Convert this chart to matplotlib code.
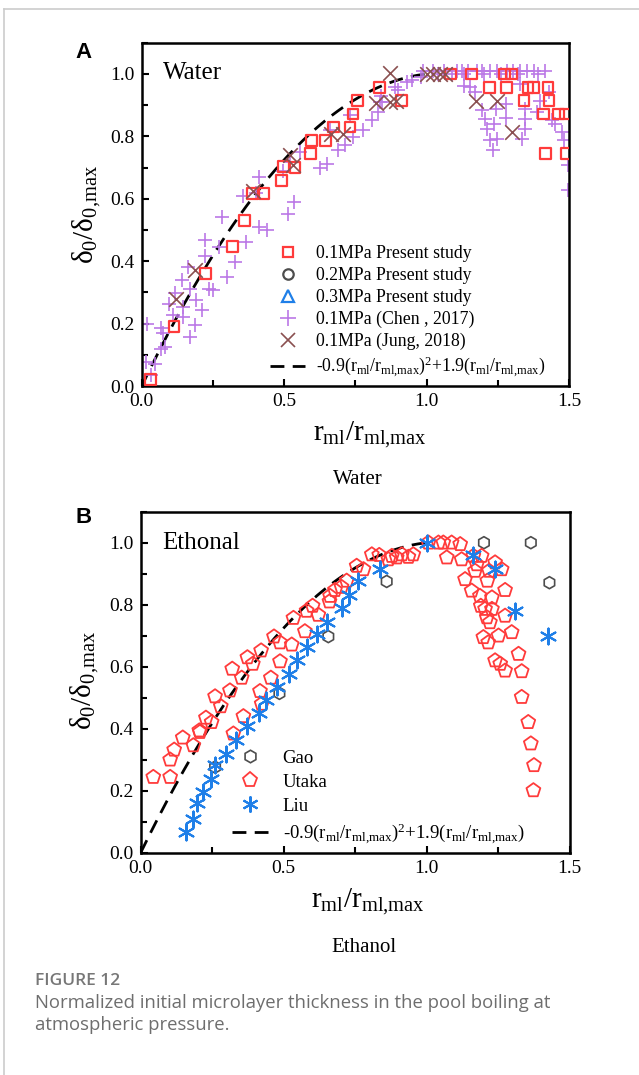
import numpy as np
import matplotlib
matplotlib.use("Agg")
import matplotlib.pyplot as plt
from matplotlib.lines import Line2D
from matplotlib.ticker import MultipleLocator, FormatStrFormatter

plt.rcParams['font.family'] = ['Liberation Serif', 'DejaVu Serif']
plt.rcParams['mathtext.fontset'] = 'custom'
plt.rcParams['mathtext.rm'] = 'Liberation Serif'
plt.rcParams['mathtext.it'] = 'Liberation Serif:italic'
plt.rcParams['mathtext.bf'] = 'Liberation Serif:bold'

# ---------------- Panel A data (Water) ----------------
present_x = [0.032, 0.113, 0.224, 0.318, 0.36, 0.389, 0.429, 0.491, 0.499, 0.538, 0.593, 0.596,
             0.645, 0.672, 0.731, 0.742, 0.758, 0.836, 0.912, 1.084, 1.157, 1.222, 1.274, 1.28,
             1.298, 1.342, 1.356, 1.374, 1.411, 1.418, 1.426, 1.43, 1.464, 1.488, 1.491]
present_y = [0.021, 0.19, 0.36, 0.446, 0.53, 0.618, 0.616, 0.659, 0.703, 0.70, 0.744, 0.787,
             0.787, 0.83, 0.83, 0.872, 0.915, 0.957, 0.915, 1.0, 1.0, 0.957, 1.0, 0.957,
             1.0, 0.915, 0.957, 0.957, 0.872, 0.744, 0.957, 0.915, 0.872, 0.872, 0.744]

chen_x = [0.018, 0.015, 0.047, 0.032, 0.067, 0.075, 0.067, 0.08, 0.111, 0.097, 0.117, 0.14,
          0.146, 0.146, 0.17, 0.17, 0.191, 0.187, 0.211, 0.164, 0.222, 0.222, 0.251, 0.236,
          0.273, 0.283, 0.30, 0.328, 0.366, 0.41, 0.439, 0.515, 0.533,
          0.354, 0.413, 0.40, 0.497, 0.52, 0.555, 0.626, 0.652, 0.69, 0.713, 0.74, 0.775,
          0.807, 0.83, 0.842, 0.73, 0.66, 0.84, 0.889, 0.90, 0.931, 0.948, 0.982, 0.989, 0.837,
          1.024, 1.06, 1.106, 1.124, 1.147, 1.177, 1.194, 1.223, 1.246, 1.282, 1.305, 1.329,
          1.352, 1.376, 1.417,
          1.04, 1.09, 1.13, 1.20, 1.26, 1.32, 1.39,
          1.131, 1.153, 1.171, 1.194, 1.206, 1.212, 1.223, 1.233, 1.235, 1.247, 1.245, 1.28,
          1.28, 1.329, 1.346, 1.346, 1.346, 1.335, 1.387, 1.399, 1.428, 1.44, 1.452, 1.475,
          1.481, 1.498, 1.498]
chen_y = [0.20, 0.078, 0.072, 0.035, 0.185, 0.17, 0.12, 0.125, 0.227, 0.264, 0.298, 0.339,
          0.254, 0.222, 0.312, 0.158, 0.275, 0.195, 0.243, 0.381, 0.467, 0.416, 0.307, 0.31,
          0.445, 0.542, 0.348, 0.397, 0.461, 0.51, 0.499, 0.552, 0.589,
          0.608, 0.67, 0.62, 0.69, 0.718, 0.75, 0.70, 0.712, 0.755, 0.771, 0.797, 0.821,
          0.851, 0.877, 0.909, 0.87, 0.82, 0.93, 0.957, 0.95, 0.973, 0.981, 0.989, 1.01, 0.909,
          1.01, 1.01, 1.01, 1.01, 1.01, 1.01, 1.01, 1.01, 1.01, 1.01, 1.01, 1.01,
          1.01, 1.01, 1.01,
          1.0, 1.0, 1.0, 1.0, 1.0, 1.0, 1.0,
          0.963, 0.957, 0.941, 0.883, 0.856, 0.824, 0.787, 0.755, 0.84, 0.792, 0.888, 0.859,
          0.904, 0.968, 0.888, 0.856, 0.824, 0.792, 0.877, 0.915, 0.941, 0.851, 0.84, 0.813,
          0.787, 0.707, 0.627]

jung_x = [0.12, 0.187, 0.389, 0.52, 0.532, 0.666, 0.707, 0.822, 0.873, 0.871, 0.894, 1.0,
          1.023, 1.046, 1.064, 1.173, 1.247, 1.30]
jung_y = [0.28, 0.373, 0.624, 0.739, 0.707, 0.808, 0.808, 0.906, 1.002, 0.909, 0.915, 1.0,
          1.0, 1.0, 1.0, 0.915, 0.915, 0.813]

# ---------------- Panel B data (Ethanol) ----------------
gao_x = [0.26, 0.485, 0.656, 0.86, 1.20, 1.364, 1.429]
gao_y = [0.276, 0.514, 0.697, 0.875, 1.0, 1.0, 0.871]

utaka_x = [0.044, 0.103, 0.103, 0.117, 0.147, 0.184, 0.205, 0.207, 0.228, 0.248, 0.26, 0.28,
           0.312, 0.32, 0.353, 0.373, 0.392, 0.421, 0.324, 0.359, 0.417, 0.423, 0.455, 0.466,
           0.487, 0.487, 0.528, 0.534, 0.574, 0.58, 0.601, 0.621, 0.66, 0.662, 0.679, 0.702,
           0.72, 0.755, 0.779, 0.808, 0.834, 0.866, 0.878, 0.895, 0.913, 0.936, 0.953,
           1.006, 1.041, 1.058, 1.087, 1.117, 1.07, 1.122, 1.163, 1.192, 1.175, 1.169, 1.218,
           1.212, 1.134, 1.157, 1.186, 1.189, 1.204, 1.21, 1.221, 1.228, 1.228, 1.239, 1.262,
           1.274, 1.274, 1.198, 1.215, 1.251, 1.239, 1.257, 1.274, 1.297, 1.321, 1.332, 1.332,
           1.355, 1.364, 1.375, 1.373]
utaka_y = [0.244, 0.30, 0.244, 0.332, 0.371, 0.346, 0.394, 0.389, 0.435, 0.421, 0.504, 0.472,
           0.523, 0.593, 0.564, 0.63, 0.609, 0.652, 0.384, 0.44, 0.521, 0.48, 0.564, 0.697,
           0.617, 0.678, 0.671, 0.757, 0.714, 0.78, 0.796, 0.767, 0.81, 0.828, 0.847, 0.857,
           0.877, 0.925, 0.914, 0.962, 0.96, 0.946, 0.957, 0.952, 0.962, 0.954, 0.962,
           1.0, 1.0, 1.0, 1.0, 0.995, 0.952, 0.946, 0.957, 0.957, 0.93, 0.909, 0.909,
           0.877, 0.882, 0.845, 0.828, 0.796, 0.786, 0.759, 0.743, 0.786, 0.823, 0.936, 0.914,
           0.847, 0.764, 0.695, 0.678, 0.70, 0.62, 0.609, 0.587, 0.711, 0.641, 0.585, 0.502,
           0.421, 0.352, 0.282, 0.201]

liu_x = [0.159, 0.182, 0.196, 0.219, 0.245, 0.26, 0.298, 0.333, 0.373, 0.415, 0.438, 0.476,
         0.52, 0.545, 0.58, 0.618, 0.65, 0.703, 0.73, 0.761, 0.837, 1.0, 1.163, 1.239,
         1.309, 1.425]
liu_y = [0.068, 0.11, 0.159, 0.196, 0.239, 0.282, 0.317, 0.364, 0.41, 0.45, 0.493, 0.534,
         0.577, 0.622, 0.662, 0.707, 0.743, 0.789, 0.832, 0.877, 0.914, 1.0, 0.96, 0.914,
         0.78, 0.70]

fit_a = -0.9
fit_b = 1.9

RED = '#ff3b3b'
PURPLE = '#bb78e6'
BROWN = '#8a5050'
GREY = '#4d4d4d'
BLUE = '#1f7fe8'

fig = plt.figure(figsize=(6.39, 10.75), dpi=100)

SUB1 = r'$_{\mathrm{ml}}$'
SUB2 = r'$_{\mathrm{ml{,}max}}$'
fit_label = ('-0.9(r' + SUB1 + '/r' + SUB2 + ')$^{2}$+1.9(r' + SUB1 + '/r' + SUB2 + ')')
xlabel_txt = 'r' + SUB1 + '/r' + SUB2
ylabel_txt = r'$\mathrm{\delta_{0}/\delta_{0{,}max}}$'

xfit = np.linspace(0, 1.0, 200)
yfit = fit_a * xfit ** 2 + fit_b * xfit


def style_axes(ax):
    ax.set_xlim(0, 1.5)
    ax.set_ylim(0, 1.1)
    ax.xaxis.set_major_locator(MultipleLocator(0.5))
    ax.xaxis.set_minor_locator(MultipleLocator(0.25))
    ax.yaxis.set_major_locator(MultipleLocator(0.2))
    ax.yaxis.set_minor_locator(MultipleLocator(0.1))
    ax.xaxis.set_major_formatter(FormatStrFormatter('%.1f'))
    ax.yaxis.set_major_formatter(FormatStrFormatter('%.1f'))
    ax.tick_params(which='both', direction='in', width=1.5, labelsize=14,
                   top=False, right=False)
    ax.tick_params(which='major', length=5, pad=5)
    ax.tick_params(which='minor', length=4)
    for s in ax.spines.values():
        s.set_linewidth(1.8)


# ---------------- Panel A ----------------
axA = fig.add_axes([0.2218, 0.6409, 0.6687, 0.3193])
style_axes(axA)
axA.plot(xfit, yfit, color='black', lw=2.0, dashes=(5, 3), zorder=1)
axA.scatter(chen_x, chen_y, marker='+', s=110, color=PURPLE, linewidths=1.2, zorder=2)
axA.scatter(present_x, present_y, marker='s', s=60, facecolors='none', edgecolors=RED,
            linewidths=1.6, zorder=3)
axA.scatter(jung_x, jung_y, marker='x', s=110, color=BROWN, linewidths=1.2, zorder=4)

handlesA = [
    Line2D([], [], ls='none', marker='s', ms=7.5, mfc='none', mec=RED, mew=1.6),
    Line2D([], [], ls='none', marker='o', ms=7.5, mfc='none', mec=GREY, mew=1.6),
    Line2D([], [], ls='none', marker='^', ms=8, mfc='none', mec=BLUE, mew=1.6),
    Line2D([], [], ls='none', marker='+', ms=11, color=PURPLE, mew=1.2),
    Line2D([], [], ls='none', marker='x', ms=10, color=BROWN, mew=1.2),
    Line2D([], [], color='black', lw=2.0, dashes=(5, 3)),
]
labelsA = ['0.1MPa Present study', '0.2MPa Present study', '0.3MPa Present study',
           '0.1MPa (Chen , 2017)', '0.1MPa (Jung, 2018)', fit_label]
axA.legend(handlesA, labelsA, loc='lower left', bbox_to_anchor=(0.3, 0.02),
           frameon=False, fontsize=12.8, handlelength=2.0, handletextpad=0.6,
           labelspacing=0.27, borderpad=0, borderaxespad=0)
axA.text(0.05, 0.913, 'Water', transform=axA.transAxes, fontsize=18, va='center', ha='left')
axA.text(0.534, -0.143, xlabel_txt, transform=axA.transAxes,
         fontsize=21, ha='center', va='center')
axA.text(-0.129, 0.5, ylabel_txt, transform=axA.transAxes,
         fontsize=21, ha='center', va='center', rotation=90)

# ---------------- Panel B ----------------
axB = fig.add_axes([0.2202, 0.2068, 0.6714, 0.3172])
style_axes(axB)
axB.plot(xfit, yfit, color='black', lw=2.0, dashes=(5, 3), zorder=1)
axB.scatter(gao_x, gao_y, marker='h', s=75, facecolors='none', edgecolors=GREY,
            linewidths=1.2, zorder=2)
axB.scatter(utaka_x, utaka_y, marker='p', s=110, facecolors='none', edgecolors=RED,
            linewidths=1.3, zorder=3)
axB.scatter(liu_x, liu_y, marker=(6, 2, 0), s=130, color=BLUE, linewidths=1.5, zorder=4)

handlesB = [
    Line2D([], [], ls='none', marker='h', ms=9, mfc='none', mec=GREY, mew=1.2),
    Line2D([], [], ls='none', marker='p', ms=11, mfc='none', mec=RED, mew=1.3),
    Line2D([], [], ls='none', marker=(6, 2, 0), ms=11.5, color=BLUE, mew=1.5),
    Line2D([], [], color='black', lw=2.0, dashes=(5, 3)),
]
labelsB = ['Gao', 'Utaka', 'Liu', fit_label]
axB.legend(handlesB, labelsB, loc='lower left', bbox_to_anchor=(0.212, 0.02),
           frameon=False, fontsize=13.5, handlelength=1.95, handletextpad=0.77,
           labelspacing=0.36, borderpad=0, borderaxespad=0)
axB.text(0.049, 0.908, 'Ethonal', transform=axB.transAxes, fontsize=18, va='center', ha='left')
axB.text(0.529, -0.144, xlabel_txt, transform=axB.transAxes,
         fontsize=21, ha='center', va='center')
axB.text(-0.13, 0.506, ylabel_txt, transform=axB.transAxes,
         fontsize=21, ha='center', va='center', rotation=90)

# ---------------- Figure-level texts ----------------
fig.text(84 / 639, 1 - 52 / 1075, 'A', family='Liberation Sans', weight='bold', fontsize=16,
         ha='center', va='center')
fig.text(84 / 639, 1 - 518 / 1075, 'B', family='Liberation Sans', weight='bold', fontsize=16,
         ha='center', va='center')
fig.text(358 / 639, 1 - 480 / 1075, 'Water', fontsize=15, ha='center', va='center')
fig.text(364 / 639, 1 - 948 / 1075, 'Ethanol', fontsize=15, ha='center', va='center')

fig.text(35 / 639, 1 - 981 / 1075, 'FIGURE 12', family='Open Sans', weight='semibold',
         fontsize=12.5, color='#777777', ha='left', va='center')
fig.text(35 / 639, 1 - 1003 / 1075,
         'Normalized initial microlayer thickness in the pool boiling at',
         family='Open Sans', fontsize=13.3, color='#6e6e6e', ha='left', va='center')
fig.text(35 / 639, 1 - 1025 / 1075, 'atmospheric pressure.',
         family='Open Sans', fontsize=13.3, color='#6e6e6e', ha='left', va='center')

# thin page border lines (top and left)
fig.add_artist(Line2D([4 / 639, 4 / 639], [0, 1 - 9 / 1075], transform=fig.transFigure,
                      color='#cccccc', lw=1.2))
fig.add_artist(Line2D([4 / 639, 1], [1 - 9 / 1075, 1 - 9 / 1075], transform=fig.transFigure,
                      color='#cccccc', lw=1.2))

fig.savefig('out.png', dpi=100)
